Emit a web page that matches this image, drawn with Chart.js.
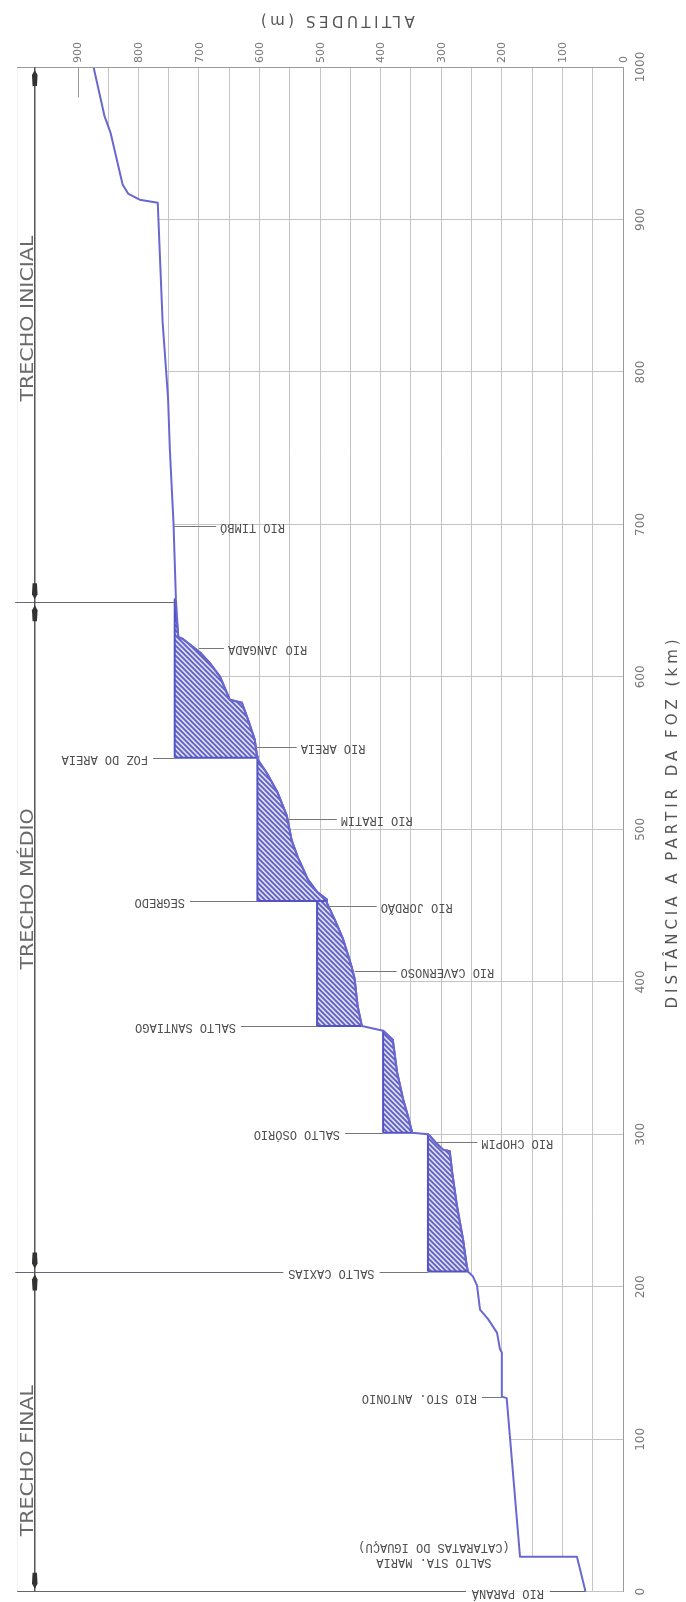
<!DOCTYPE html>
<html><head><meta charset="utf-8">
<style>html,body{margin:0;padding:0;background:#fff;}#wrap{width:686px;height:1602px;}</style>
<script src="https://cdn.jsdelivr.net/npm/chart.js@4.4.1/dist/chart.umd.min.js"></script>
</head><body><div id="wrap"><canvas id="c" width="686" height="1602"></canvas></div>
<script>
// ---------- DATA ----------
// River bed profile: distance from the mouth (km) and altitude (m)
const profileKm  = [1000, 968, 957, 923, 917, 913, 911, 833, 783, 749, 701, 651, 626,
  625, 616, 609, 600, 585, 583, 572, 559, 548,
  546, 537, 524, 509, 493, 482, 467, 459, 454,
  452, 441, 428, 410, 402, 384, 371,
  368, 362, 341, 323, 312, 301,
  300, 299, 295, 290, 289, 275, 253, 231, 214, 210,
  207, 201, 185, 179, 170, 159, 157, 128, 127, 23, 23, 2, 0];
const profileAlt = [874, 856, 846, 826, 817, 798, 768, 760, 751, 748, 742, 738, 734,
  727, 698, 682, 665, 649, 629, 619, 608, 604,
  603, 588, 570, 555, 547, 537, 520, 505, 489,
  489, 476, 462, 448, 443, 438, 431,
  396, 380, 373, 363, 355, 348,
  322, 319, 310, 297, 286, 282, 274, 264, 258, 256,
  248, 241, 236, 223, 208, 203, 200, 200, 192, 170, 76, 63, 62];

// Reservoirs (closed outlines: water level + bed + dam)
const fozAreiaKm  = [547, 651, 626, 625, 616, 609, 600, 585, 583, 572, 559, 548, 547, 547];
const fozAreiaAlt = [740, 740, 734, 727, 698, 682, 665, 649, 629, 619, 608, 604, 604, 740];
const segredoKm   = [453, 548, 546, 537, 524, 509, 493, 482, 467, 459, 454, 453, 453];
const segredoAlt  = [604, 604, 603, 588, 570, 555, 547, 537, 520, 505, 489, 489, 604];
const santiagoKm  = [371, 459, 454, 452, 441, 428, 410, 402, 384, 371, 371];
const santiagoAlt = [505, 505, 489, 489, 476, 462, 448, 443, 438, 431, 505];
const osorioKm    = [301, 368, 362, 341, 323, 312, 301, 301];
const osorioAlt   = [396, 396, 380, 373, 363, 355, 348, 396];
const caxiasKm    = [210, 300, 299, 295, 290, 289, 275, 253, 231, 214, 210, 210];
const caxiasAlt   = [322, 322, 319, 310, 297, 286, 282, 274, 264, 258, 256, 322];

// Tick labels
const altitudeTickLabels = ["0", "100", "200", "300", "400", "500", "600", "700", "800", "900"];
const distanceTickLabels = ["0", "100", "200", "300", "400", "500", "600", "700", "800", "900", "1000"];

// Tributaries (labels to the right of the profile)
const tribNames   = ["RIO TIMBÓ", "RIO JANGADA", "RIO AREIA", "RIO IRATIM", "RIO JORDÃO", "RIO CAVERNOSO", "RIO CHOPIM"];
const tribKm      = [699, 619, 554, 507, 450, 407, 295];
const tribFromAlt = [741, 700, 604, 555, 492, 443, 310];
const tribTextAlt = [665, 652, 532, 466, 400, 367, 234];

// Dams and places (labels to the left of the profile)
const placeNames   = ["FOZ DO AREIA", "SEGREDO", "SALTO SANTIAGO", "SALTO OSÓRIO", "SALTO CAXIAS", "RIO STO. ANTONIO"];
const placeKm      = [547, 453, 371, 301, 210, 128];
const placeTextAlt = [784, 723, 639, 467, 410, 241];
const placeToAlt   = [740, 604, 505, 396, 322, 200];

const staMariaLines = ["SALTO STA. MARIA", "(CATARATAS DO IGUAÇU)"];
const staMariaKm = [19.7, 29.5];
const staMariaAlt = 312;
const paranaName = "RIO PARANÁ";
const paranaAlt = 190;

// Reaches
const reachNames = ["TRECHO INICIAL", "TRECHO MÉDIO", "TRECHO FINAL"];
const reachStartKm = [1000, 649, 210];
const reachEndKm   = [649, 210, 0];
const reachLabelKm = [835, 461, 86];
const reachAxisAlt = 971;

// ---------- CHART ----------
function makeHatch() {
  const n = 5;
  const c = document.createElement('canvas'); c.width = n; c.height = n;
  const g = c.getContext('2d');
  g.fillStyle = '#dadaf3'; g.fillRect(0, 0, n, n);
  g.strokeStyle = '#5d5dc4'; g.lineWidth = 1.7;
  g.beginPath();
  g.moveTo(-1, -1); g.lineTo(n + 1, n + 1);
  g.moveTo(-1, n - 1); g.lineTo(1, n + 1);
  g.moveTo(n - 1, -1); g.lineTo(n + 1, 1);
  g.stroke();
  return g.createPattern(c, 'repeat');
}
const hatch = makeHatch();
const pts = (km, alt) => km.map((d, i) => ({x: alt[i], y: d}));
const maskPts = pts(profileKm, profileAlt).concat([{x: 1010, y: -10}, {x: 1010, y: 1010}, {x: profileAlt[0], y: 1010}]);

const BLUE = '#6868d0';
function reservoir(km, alt) {
  return {data: pts(km, alt), borderColor: '#5353c3', borderWidth: 2, backgroundColor: hatch,
          fill: 'shape', pointRadius: 0, order: 2};
}

const annot = {
  id: 'annot',
  afterDraw(chart) {
    const ctx = chart.ctx, xs = chart.scales.x, ys = chart.scales.y;
    const X = a => xs.getPixelForValue(a), Y = d => ys.getPixelForValue(d);
    const ca = chart.chartArea;
    const hline = (x1, x2, y, col, w) => {
      ctx.beginPath(); ctx.strokeStyle = col; ctx.lineWidth = w || 1;
      const yy = Math.round(y) + 0.5; ctx.moveTo(x1, yy); ctx.lineTo(x2, yy); ctx.stroke();
    };
    const rtext = (s, x, y, ang, align, base) => {
      ctx.save(); ctx.translate(x, y); ctx.rotate(ang);
      ctx.textAlign = align; ctx.textBaseline = base || 'middle'; ctx.fillText(s, 0, 0); ctx.restore();
    };
    ctx.save();
    ctx.font = '12px "Liberation Mono", "DejaVu Sans Mono", monospace';
    ctx.fillStyle = '#4f4f4f';
    // tributaries
    tribNames.forEach((t, i) => {
      const y = Y(tribKm[i]); const xt = X(tribTextAlt[i]);
      hline(X(tribFromAlt[i]), xt - 4, y, '#777');
      rtext(t, xt, Math.round(y) + 1, Math.PI, 'right');
    });
    // places
    placeNames.forEach((t, i) => {
      const y = Y(placeKm[i]); const xt = X(placeTextAlt[i]);
      hline(xt + 5, X(placeToAlt[i]), y, '#777');
      rtext(t, xt, Math.round(y) + 1, Math.PI, 'left');
    });
    // Salto Sta. Maria
    staMariaLines.forEach((t, i) => rtext(t, X(staMariaAlt), Y(staMariaKm[i]), Math.PI, 'center'));
    // Rio Paraná at km 0
    const y0 = Y(0), wP = ctx.measureText(paranaName).width;
    rtext(paranaName, X(paranaAlt), y0 + 1, Math.PI, 'center');
    hline(ca.left, X(paranaAlt) - wP / 2 - 6, y0 - 0.5, '#666');
    hline(X(paranaAlt) + wP / 2 + 6, X(profileAlt[profileAlt.length - 1]), y0 - 0.5, '#666');
    // reach boundaries
    const xb = X(reachAxisAlt);
    hline(ca.left - 2, X(737), Y(reachEndKm[0]), '#6e6478', 1.2);
    const wC = ctx.measureText(placeNames[4]).width;
    hline(ca.left - 2, X(placeTextAlt[4]) - wC - 5, Y(reachEndKm[1]), '#6e6478', 1.2);
    // 900 m stub
    ctx.beginPath(); ctx.strokeStyle = '#999'; ctx.lineWidth = 1;
    ctx.moveTo(Math.round(X(900)) + 0.5, Y(1000)); ctx.lineTo(Math.round(X(900)) + 0.5, Y(980)); ctx.stroke();
    // bracket line
    ctx.beginPath(); ctx.strokeStyle = '#555'; ctx.lineWidth = 1.5;
    ctx.moveTo(xb, Y(1000)); ctx.lineTo(xb, Y(0)); ctx.stroke();
    ctx.fillStyle = '#333';
    const arrow = (tipY, dir) => {
      ctx.beginPath(); ctx.moveTo(xb, tipY); ctx.lineTo(xb - 2.8, tipY - dir * 5);
      ctx.lineTo(xb - 2.2, tipY - dir * 16); ctx.lineTo(xb + 2.2, tipY - dir * 16);
      ctx.lineTo(xb + 2.8, tipY - dir * 5); ctx.closePath(); ctx.fill();
    };
    reachNames.forEach((t, i) => {
      arrow(Y(reachStartKm[i]) + 3, -1);
      arrow(Y(reachEndKm[i]) - 3, 1);
    });
    // reach labels
    ctx.fillStyle = '#6a6a6a';
    ctx.font = '17px "DejaVu Sans", sans-serif';
    const sx = 166 / ctx.measureText(reachNames[0]).width;
    reachNames.forEach((t, i) => {
      ctx.save(); ctx.translate(xb - 2, Y(reachLabelKm[i])); ctx.rotate(-Math.PI / 2); ctx.scale(sx, 1);
      ctx.textAlign = 'center'; ctx.textBaseline = 'alphabetic'; ctx.fillText(t, 0, 0); ctx.restore();
    });
    // axis titles
    ctx.fillStyle = '#555';
    ctx.font = '15px "DejaVu Sans", sans-serif';
    ctx.letterSpacing = '3.5px';
    rtext('ALTITUDES (m)', 336, 20, Math.PI, 'center');
    ctx.letterSpacing = '4px';
    rtext('DISTÂNCIA A PARTIR DA FOZ (km)', 673, 822, -Math.PI / 2, 'center');
    ctx.letterSpacing = '0px';
    ctx.restore();
  }
};

new Chart(document.getElementById('c'), {
  type: 'line',
  data: {
    datasets: [
      {data: pts(profileKm, profileAlt), borderColor: BLUE, borderWidth: 2, fill: false, pointRadius: 0, order: 1},
      reservoir(fozAreiaKm, fozAreiaAlt),
      reservoir(segredoKm, segredoAlt),
      reservoir(santiagoKm, santiagoAlt),
      reservoir(osorioKm, osorioAlt),
      reservoir(caxiasKm, caxiasAlt),
      {data: maskPts, borderWidth: 0, borderColor: 'rgba(0,0,0,0)', backgroundColor: '#ffffff', fill: 'shape', pointRadius: 0, order: 10}
    ]
  },
  options: {
    responsive: false, animation: false, devicePixelRatio: 1,
    layout: {padding: {left: 17, right: 0, top: 0, bottom: 9}},
    elements: {line: {tension: 0, borderJoinStyle: 'round'}},
    plugins: {legend: {display: false}, tooltip: {enabled: false}},
    scales: {
      x: {
        type: 'linear', position: 'top', reverse: true, min: 0, max: 1000,
        afterFit: s => { s.height = 67; },
        grid: {color: '#c4c4c4', lineWidth: 1, drawTicks: false},
        border: {display: true, color: '#9a9a9a', z: 1},
        ticks: {
          stepSize: 50, autoSkip: false, minRotation: 90, maxRotation: 90, padding: 4, labelOffset: 14,
          color: '#777', font: {size: 11, family: 'DejaVu Sans'},
          callback: v => (v % 100 === 0 && v / 100 < altitudeTickLabels.length) ? altitudeTickLabels[v / 100] : ''
        }
      },
      y: {
        type: 'linear', position: 'right', min: 0, max: 1000,
        afterFit: s => { s.width = 63; },
        grid: {color: '#c4c4c4', lineWidth: 1, drawTicks: false},
        border: {display: true, color: '#9a9a9a', z: 1},
        ticks: {
          stepSize: 100, autoSkip: false, minRotation: 90, maxRotation: 90, crossAlign: 'center', padding: 3,
          color: '#777', font: {size: 12, family: 'DejaVu Sans'},
          callback: v => distanceTickLabels[Math.round(v / 100)]
        }
      }
    }
  },
  plugins: [annot]
});
</script>
</body></html>
